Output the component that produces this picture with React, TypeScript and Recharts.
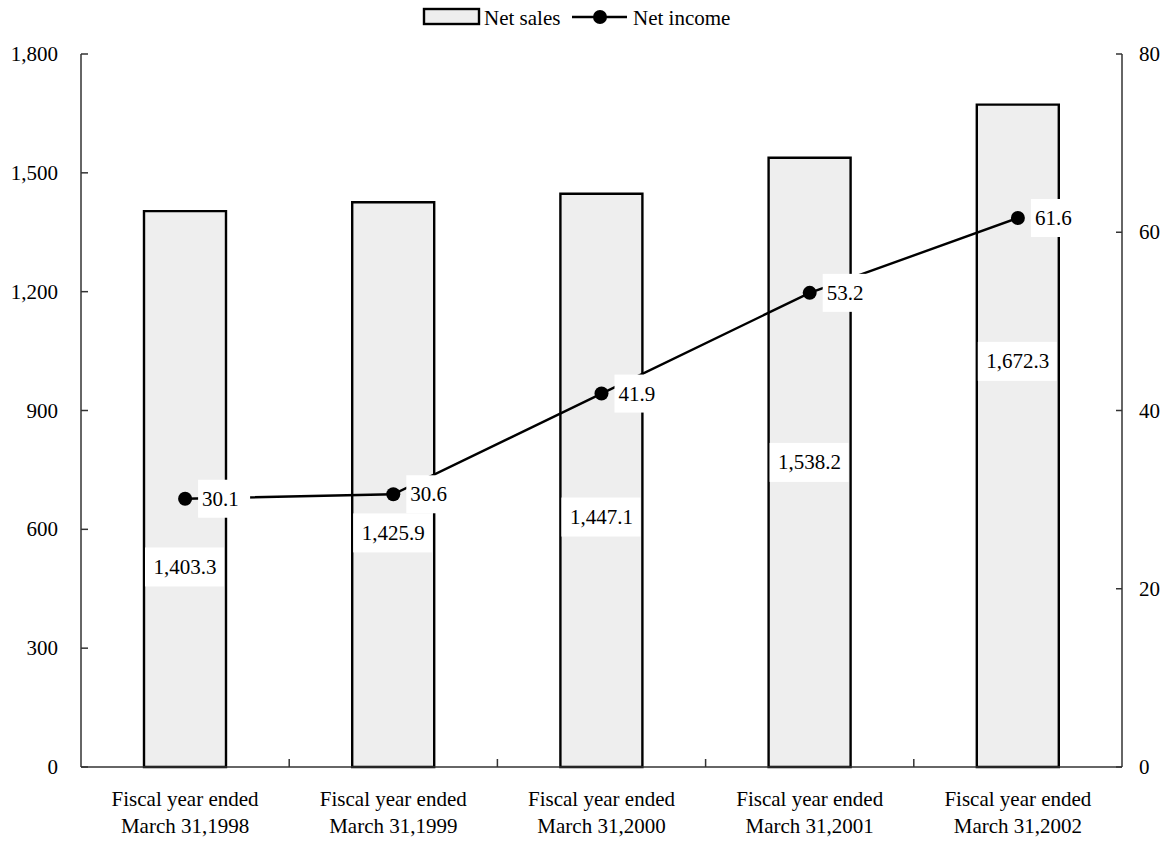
import React from 'react';
import { ComposedChart, Bar, Line, XAxis, YAxis, LabelList } from 'recharts';

// ---- data ----
const categoryPrefix = 'Fiscal year ended';
const categories = ['March 31,1998', 'March 31,1999', 'March 31,2000', 'March 31,2001', 'March 31,2002'];
const netSales = [1403.3, 1425.9, 1447.1, 1538.2, 1672.3];
const netIncome = [30.1, 30.6, 41.9, 53.2, 61.6];
const salesTicks = [0, 300, 600, 900, 1200, 1500, 1800];
const incomeTicks = [0, 20, 40, 60, 80];
// where each bar's value label sits, in left-axis units
const salesLabelAnchors = [505, 591, 631, 769, 1024];

const data = categories.map((c, i) => ({ name: c, sales: netSales[i], income: netIncome[i] }));

// ---- layout ----
const W = 1169;
const H = 842;
const LEFT_W = 81;
const RIGHT_W = 47;
const TOP = 54;
const X_H = 75;
const BAND = (W - LEFT_W - RIGHT_W) / categories.length;
const FONT = 'Liberation Serif, Times New Roman, serif';
const FS = 21;
const AXIS = '#333333';
const TXT: React.CSSProperties = { fontFamily: FONT, fontSize: FS };

const fmtSales = (v: number) => v.toLocaleString('en-US', { minimumFractionDigits: 1, maximumFractionDigits: 1 });
const fmtTick = (v: number) => v.toLocaleString('en-US');

const LeftTick = (props: any) => {
  const { x, y, payload } = props;
  return (
    <g>
      <line x1={x} x2={x + 7} y1={y} y2={y} stroke={AXIS} strokeWidth={1.5} />
      <text x={x - 23} y={y + 7} textAnchor="end" style={TXT} fill="#000">
        {fmtTick(payload.value)}
      </text>
    </g>
  );
};

const RightTick = (props: any) => {
  const { x, y, payload } = props;
  return (
    <g>
      <line x1={x - 6} x2={x} y1={y} y2={y} stroke={AXIS} strokeWidth={1.5} />
      <text x={x + 17} y={y + 7} textAnchor="start" style={TXT} fill="#000">
        {fmtTick(payload.value)}
      </text>
    </g>
  );
};

const XTick = (props: any) => {
  const { x, y, payload, index } = props;
  return (
    <g>
      {index < categories.length - 1 && (
        <line x1={x + BAND / 2} x2={x + BAND / 2} y1={y} y2={y - 8} stroke={AXIS} strokeWidth={1.5} />
      )}
      <text x={x} y={y} textAnchor="middle" style={TXT} fill="#000">
        <tspan x={x} dy={39}>{categoryPrefix}</tspan>
        <tspan x={x} dy={27}>{payload.value}</tspan>
      </text>
    </g>
  );
};

const BarValueLabel = (props: any) => {
  const { x, y, width, height, index, value } = props;
  const v = Number(value);
  const anchor = salesLabelAnchors[index];
  const cy = y + height - (anchor / v) * height;
  return (
    <g>
      <rect x={x + 1} y={cy - 19.5} width={width - 3} height={39} fill="#ffffff" />
      <text x={x + width / 2} y={cy + 7} textAnchor="middle" style={TXT} fill="#000">
        {fmtSales(v)}
      </text>
    </g>
  );
};

const LineValueLabel = (props: any) => {
  const { x, y, value } = props;
  return (
    <g>
      <rect x={x + 13} y={y - 19} width={52} height={38} fill="#ffffff" />
      <text x={x + 17} y={y + 7} textAnchor="start" style={TXT} fill="#000">
        {Number(value).toFixed(1)}
      </text>
    </g>
  );
};

const LegendOverlay = () => (
  <svg width={W} height={40} style={{ position: 'absolute', left: 0, top: 0 }}>
    <rect x={424} y={9} width={55} height={15} fill="#eeeeee" stroke="#000" strokeWidth={2.4} />
    <text x={484} y={25} style={TXT} fill="#000">Net sales</text>
    <line x1={572} x2={627} y1={17} y2={17} stroke="#000" strokeWidth={2.4} />
    <circle cx={600} cy={17} r={7} fill="#000" />
    <text x={633} y={25} style={TXT} fill="#000">Net income</text>
  </svg>
);

export default function App() {
  return (
    <div style={{ position: 'absolute', left: 0, top: 0, width: W, height: H, background: '#fff' }}>
      <ComposedChart
        width={W}
        height={H}
        data={data}
        margin={{ top: TOP, right: 0, bottom: 0, left: 0 }}
      >
        <XAxis
          dataKey="name"
          height={X_H}
          interval={0}
          tickSize={0}
          tickMargin={0}
          tickLine={false}
          axisLine={{ stroke: AXIS, strokeWidth: 1.5 }}
          tick={<XTick />}
        />
        <YAxis
          yAxisId="left"
          orientation="left"
          width={LEFT_W}
          domain={[0, 1800]}
          ticks={salesTicks}
          interval={0}
          tickSize={0}
          tickMargin={0}
          tickLine={false}
          axisLine={{ stroke: AXIS, strokeWidth: 1.5 }}
          tick={<LeftTick />}
        />
        <YAxis
          yAxisId="right"
          orientation="right"
          width={RIGHT_W}
          domain={[0, 80]}
          ticks={incomeTicks}
          interval={0}
          tickSize={0}
          tickMargin={0}
          tickLine={false}
          axisLine={{ stroke: AXIS, strokeWidth: 1.5 }}
          tick={<RightTick />}
        />
        <Bar
          yAxisId="left"
          dataKey="sales"
          barSize={82}
          fill="#eeeeee"
          stroke="#000"
          strokeWidth={2.4}
          isAnimationActive={false}
        >
          <LabelList dataKey="sales" content={<BarValueLabel />} />
        </Bar>
        <Line
          yAxisId="right"
          dataKey="income"
          type="linear"
          stroke="#000"
          strokeWidth={2.4}
          dot={{ r: 7, fill: '#000', stroke: 'none' }}
          activeDot={false}
          isAnimationActive={false}
        >
          <LabelList dataKey="income" content={<LineValueLabel />} />
        </Line>
      </ComposedChart>
      <LegendOverlay />
    </div>
  );
}
